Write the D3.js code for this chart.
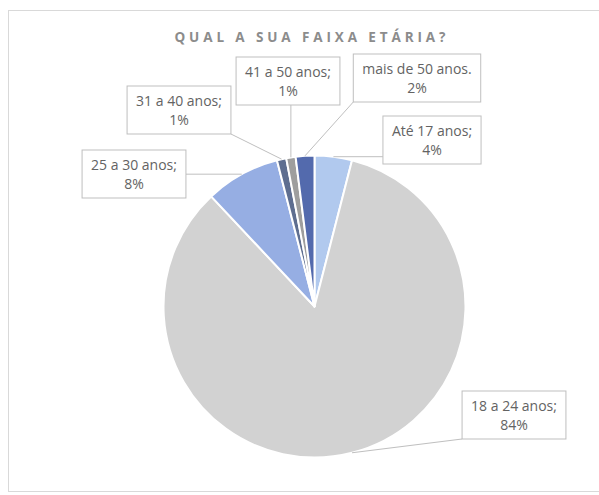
<!DOCTYPE html>
<html>
<head>
<meta charset="utf-8">
<script src="https://cdn.jsdelivr.net/npm/d3@7"></script>
<style>
  html, body { margin: 0; padding: 0; background: #ffffff; }
  svg { display: block; }
</style>
</head>
<body>
<svg id="chart" width="599" height="495"></svg>
<script>
// Age bracket survey results (percent of respondents)
const categories = ["Até 17 anos", "18 a 24 anos", "25 a 30 anos", "31 a 40 anos", "41 a 50 anos", "mais de 50 anos"];
const values = [4, 84, 8, 1, 1, 2];
const separators = [";", ";", ";", ";", ";", "."];
const title = "QUAL A SUA FAIXA ETÁRIA?";

// Two-tone dotted fills for each slice
const fillDark  = ["#9dbbe8", "#c4c4c4", "#809cdc", "#4d5d80", "#8c8c8c", "#40589e"];
const fillLight = ["#c4d7f4", "#e0e0e0", "#abc0ea", "#6f7ea0", "#b0b0b0", "#667cbc"];

// Callout box centres
const boxCenters = [[432, 140], [514, 415], [134, 174], [179, 110], [288, 81], [417, 78]];

const svg = d3.select("#chart");
const W = 599, H = 495;
const cx = 314.5, cy = 306.5, R = 151;

// chart frame
svg.append("rect")
  .attr("x", 8.5).attr("y", 10.5)
  .attr("width", W).attr("height", 481)
  .attr("fill", "none").attr("stroke", "#d9d9d9").attr("stroke-width", 1);

// patterns
const defs = svg.append("defs");
categories.forEach((c, i) => {
  const p = defs.append("pattern")
    .attr("id", "pat" + i)
    .attr("patternUnits", "userSpaceOnUse")
    .attr("width", 2).attr("height", 2);
  p.append("rect").attr("width", 2).attr("height", 2).attr("fill", fillLight[i]);
  p.append("rect").attr("x", 0).attr("y", 0).attr("width", 1).attr("height", 1).attr("fill", fillDark[i]);
  p.append("rect").attr("x", 1).attr("y", 1).attr("width", 1).attr("height", 1).attr("fill", fillDark[i]);
});

// title
const titleText = svg.append("text")
  .attr("x", 310).attr("y", 42)
  .attr("text-anchor", "middle")
  .attr("font-family", "'Open Sans', sans-serif")
  .attr("font-weight", "bold")
  .attr("font-size", 13.5)
  .attr("fill", "#8c8c8c")
  .text(title);
{
  const natural = titleText.node().getComputedTextLength();
  const target = 271;
  const spacing = (target - natural) / (title.length - 1);
  titleText.attr("letter-spacing", spacing).attr("x", 310 + spacing / 2);
}

// pie
const pie = d3.pie().sort(null).value(d => d.value).startAngle(0).endAngle(2 * Math.PI);
const data = categories.map((c, i) => ({ name: c, value: values[i], i }));
const arcs = pie(data);
const arc = d3.arc().innerRadius(0).outerRadius(R);

const g = svg.append("g").attr("transform", `translate(${cx},${cy})`);

g.selectAll("path.slice")
  .data(arcs)
  .join("path")
  .attr("class", "slice")
  .attr("d", arc)
  .attr("fill", d => `url(#pat${d.data.i})`)
  .attr("stroke", "#ffffff")
  .attr("stroke-width", 2)
  .attr("stroke-linejoin", "round");

// callouts
const fontFamily = "'Open Sans', sans-serif";
const fontSize = 14;
const lineGap = 19;
const labels = svg.append("g");

arcs.forEach(a => {
  const i = a.data.i;
  const lines = [a.data.name + separators[i], a.data.value + "%"];
  const [bx, by] = boxCenters[i];

  const grp = labels.append("g");
  const rect = grp.append("rect");
  const txt = grp.append("text")
    .attr("font-family", fontFamily)
    .attr("font-size", fontSize)
    .attr("fill", "#636363")
    .attr("text-anchor", "middle");
  lines.forEach((l, k) => {
    txt.append("tspan")
      .attr("x", bx)
      .attr("y", by - lineGap / 2 + k * lineGap + 5)
      .text(l);
  });
  const tw = d3.max(txt.selectAll("tspan").nodes(), n => n.getComputedTextLength());
  const bw = tw + 18, bh = 48;
  const x0 = bx - bw / 2, y0 = by - bh / 2;
  rect.attr("x", x0).attr("y", y0)
    .attr("width", bw).attr("height", bh)
    .attr("fill", "#ffffff")
    .attr("stroke", "#bfbfbf").attr("stroke-width", 1);

  // leader line from box edge to slice mid-point on rim
  const mid = (a.startAngle + a.endAngle) / 2;
  const px = cx + R * Math.sin(mid);
  const py = cy - R * Math.cos(mid);
  const qx = Math.max(x0, Math.min(x0 + bw, px));
  const qy = Math.max(y0, Math.min(y0 + bh, py));
  labels.insert("line", ":first-child")
    .attr("x1", qx).attr("y1", qy)
    .attr("x2", px).attr("y2", py)
    .attr("stroke", "#bfbfbf").attr("stroke-width", 1);
});
</script>
</body>
</html>
